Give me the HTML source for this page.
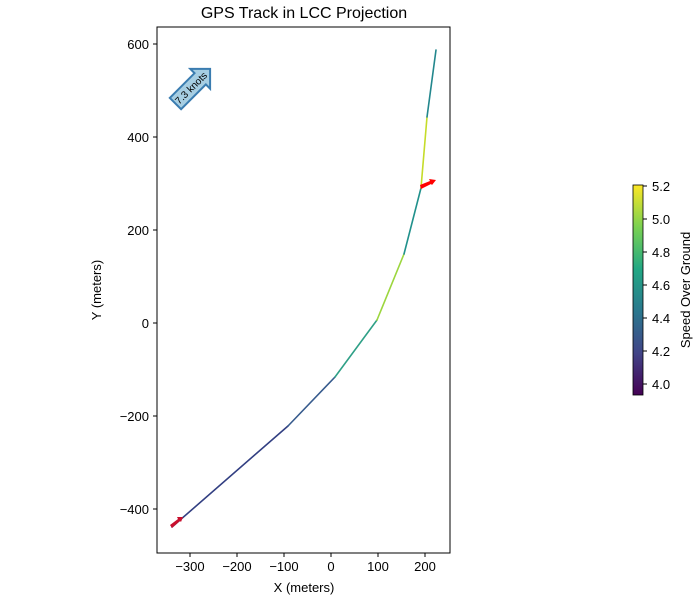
<!DOCTYPE html>
<html><head><style>body{margin:0;background:#fff}svg{display:block}</style></head><body>
<svg width="700" height="600" xmlns="http://www.w3.org/2000/svg" font-family="Liberation Sans, DejaVu Sans, sans-serif">
<defs><linearGradient id="cb" x1="0" y1="1" x2="0" y2="0">
<stop offset="0" stop-color="#440154"/><stop offset="0.2" stop-color="#414487"/><stop offset="0.4" stop-color="#2a788e"/><stop offset="0.6" stop-color="#22a884"/><stop offset="0.8" stop-color="#7ad151"/><stop offset="1" stop-color="#fde725"/></linearGradient></defs>
<text x="304" y="18" font-size="16" text-anchor="middle">GPS Track in LCC Projection</text>
<rect x="157" y="27" width="293" height="526" fill="none" stroke="#000" stroke-width="1"/>
<g font-size="13" text-anchor="middle">
<g stroke="#000"><line x1="190" y1="553" x2="190" y2="557"/><line x1="237" y1="553" x2="237" y2="557"/><line x1="284" y1="553" x2="284" y2="557"/><line x1="331" y1="553" x2="331" y2="557"/><line x1="378" y1="553" x2="378" y2="557"/><line x1="425" y1="553" x2="425" y2="557"/></g>
<text x="190" y="571">−300</text><text x="237" y="571">−200</text><text x="284" y="571">−100</text><text x="331" y="571">0</text><text x="378" y="571">100</text><text x="425" y="571">200</text>
<text x="304" y="592">X (meters)</text>
</g>
<g font-size="13" text-anchor="end">
<g stroke="#000"><line x1="153" y1="44" x2="157" y2="44"/><line x1="153" y1="137" x2="157" y2="137"/><line x1="153" y1="230" x2="157" y2="230"/><line x1="153" y1="323" x2="157" y2="323"/><line x1="153" y1="416" x2="157" y2="416"/><line x1="153" y1="509" x2="157" y2="509"/></g>
<text x="149" y="49">600</text><text x="149" y="142">400</text><text x="149" y="235">200</text><text x="149" y="328">0</text><text x="149" y="421">−200</text><text x="149" y="514">−400</text>
</g>
<text transform="translate(101,290) rotate(-90)" font-size="13" text-anchor="middle">Y (meters)</text>
<g stroke-width="1.6" fill="none" stroke-linecap="round">
<line x1="172" y1="527" x2="288" y2="426" stroke="#323f82"/>
<line x1="288" y1="426" x2="335" y2="377" stroke="#375b8d"/>
<line x1="335" y1="377" x2="377" y2="320" stroke="#2fa087"/>
<line x1="377" y1="320" x2="404" y2="254" stroke="#9cd63e"/>
<line x1="404" y1="254" x2="421" y2="188" stroke="#21918c"/>
<line x1="421" y1="188" x2="427" y2="117" stroke="#c5dc2a"/>
<line x1="427" y1="117" x2="436" y2="50" stroke="#23878d"/>
</g>
<polygon points="172,528 170,525 178,519 177,517 183,517 181,522 180,521" fill="#c8102e"/>
<polygon points="421,189 420,185 430,181 429,179 436,180 432,185 431,184" fill="red"/>
<g transform="translate(191,88) rotate(-45)">
<polygon points="-22,-8 13,-8 13,-14 27,0 13,14 13,8 -22,8" fill="#a6cee3" stroke="#3a7cb0" stroke-width="2"/>
<text x="0" y="3.5" font-size="10" text-anchor="middle">7.3 knots</text>
</g>
<rect x="633" y="185" width="10" height="210" fill="url(#cb)" stroke="#000" stroke-width="0.8"/>
<g font-size="13" stroke="#000">
<line x1="643" y1="186" x2="647" y2="186"/><line x1="643" y1="219" x2="647" y2="219"/><line x1="643" y1="252" x2="647" y2="252"/><line x1="643" y1="285" x2="647" y2="285"/><line x1="643" y1="318" x2="647" y2="318"/><line x1="643" y1="351" x2="647" y2="351"/><line x1="643" y1="384" x2="647" y2="384"/>
</g>
<g font-size="13">
<text x="652" y="191">5.2</text><text x="652" y="224">5.0</text><text x="652" y="257">4.8</text><text x="652" y="290">4.6</text><text x="652" y="323">4.4</text><text x="652" y="356">4.2</text><text x="652" y="389">4.0</text>
</g>
<text transform="translate(690,290) rotate(-90)" font-size="13" text-anchor="middle">Speed Over Ground</text>
</svg>
</body></html>
